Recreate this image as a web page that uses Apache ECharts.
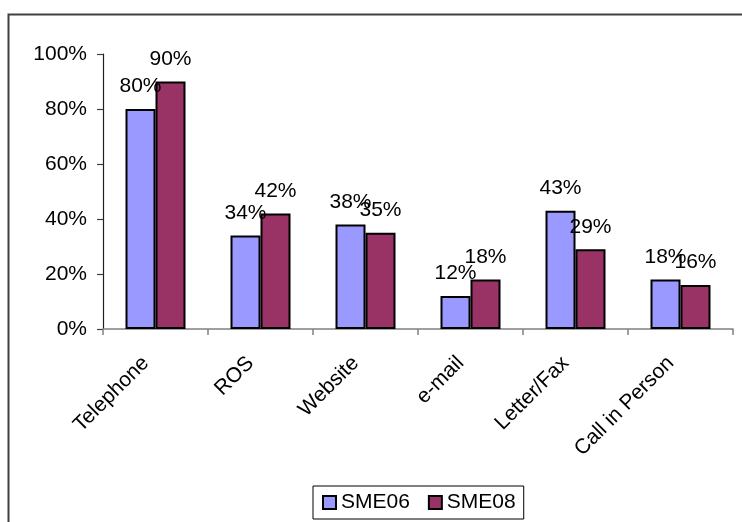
<!DOCTYPE html>
<html>
<head>
<meta charset="utf-8">
<script src="https://cdn.jsdelivr.net/npm/echarts@6/dist/echarts.min.js"></script>
<style>
  html, body { margin: 0; padding: 0; background: #fff; }
  #chart { width: 742px; height: 522px; }
</style>
</head>
<body>
<div id="chart"></div>
<script>
// Contact channels used, by survey year
const categories = ['Telephone', 'ROS', 'Website', 'e-mail', 'Letter/Fax', 'Call in Person'];
const sme06 = [80, 34, 38, 12, 43, 18];
const sme08 = [90, 42, 35, 18, 29, 16];
const yTicks = [0, 20, 40, 60, 80, 100];

const FONT = 'Liberation Sans, Arial, sans-serif';
const FS = 21;

const chart = echarts.init(document.getElementById('chart'), null, { renderer: 'canvas' });

function barSeries(name, data, color) {
  return {
    name: name,
    type: 'bar',
    data: data,
    barWidth: 30,
    barGap: '0%',
    itemStyle: { color: color, borderColor: '#000', borderWidth: 2 },
    label: {
      show: true,
      position: 'top',
      distance: 12,
      formatter: p => p.value + '%',
      color: '#000',
      fontFamily: FONT,
      fontSize: FS
    },
    emphasis: { disabled: true },
    animation: false
  };
}

chart.setOption({
  animation: false,
  backgroundColor: '#fff',
  graphic: [{
    type: 'rect',
    shape: { x: 8.5, y: 14.5, width: 760, height: 540 },
    style: { fill: 'none', stroke: '#404040', lineWidth: 2 },
    silent: true,
    z: -1
  }],
  grid: { left: 103, right: 9, top: 54, bottom: 193, containLabel: false },
  legend: {
    data: ['SME06', 'SME08'],
    left: 313,
    top: 486,
    padding: [6, 8, 6, 9],
    itemGap: 18,
    itemWidth: 13,
    itemHeight: 13,
    icon: 'rect',
    backgroundColor: '#fff',
    borderColor: '#000',
    borderWidth: 1,
    textStyle: { color: '#000', fontFamily: FONT, fontSize: FS }
  },
  xAxis: {
    type: 'category',
    data: categories,
    axisLine: { lineStyle: { color: '#808080', width: 1.5 } },
    axisTick: { show: true, length: 6, lineStyle: { color: '#808080', width: 1.5 } },
    axisLabel: {
      rotate: 45,
      interval: 0,
      margin: 21,
      padding: [0, 14, 0, 0],
      color: '#000',
      fontFamily: FONT,
      fontSize: FS
    },
    splitLine: { show: false }
  },
  yAxis: {
    type: 'value',
    min: yTicks[0],
    max: yTicks[yTicks.length - 1],
    interval: 20,
    axisLine: { show: true, lineStyle: { color: '#202020', width: 1.2 } },
    axisTick: { show: true, length: 6, lineStyle: { color: '#404040', width: 1.2 } },
    axisLabel: {
      margin: 16,
      formatter: v => v + '%',
      color: '#000',
      fontFamily: FONT,
      fontSize: FS
    },
    splitLine: { show: false }
  },
  series: [
    barSeries('SME06', sme06, '#9999FF'),
    barSeries('SME08', sme08, '#993366')
  ]
});
</script>
</body>
</html>
